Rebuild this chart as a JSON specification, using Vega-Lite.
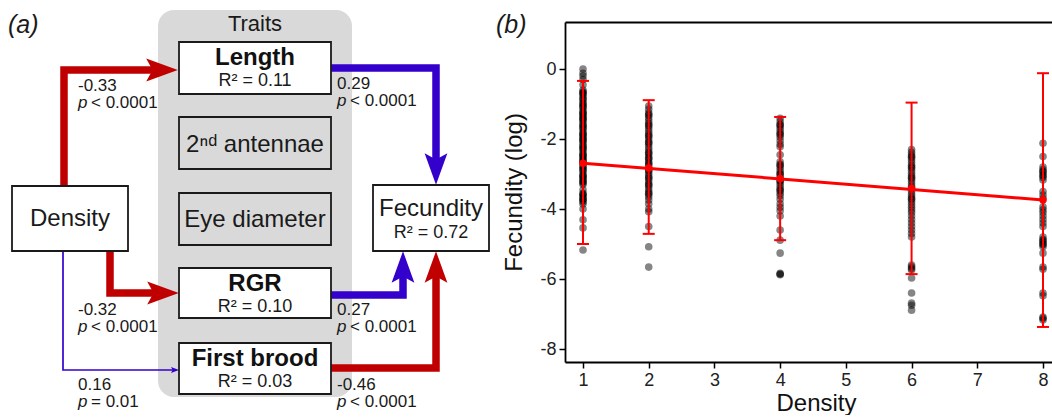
{
  "$schema": "https://vega.github.io/schema/vega-lite/v6.json",
  "padding": 0,
  "autosize": {"type": "pad"},
  "spacing": 75,
  "bounds": "flush",
  "center": true,
  "config": {
    "view": {"stroke": null},
    "font": "Liberation Sans, DejaVu Sans, sans-serif"
  },
  "datasets": {
    "panels": [
      {"label": "(a)", "x": 8, "y": 33},
      {"label": "(b)", "x": 496, "y": 33}
    ],
    "group": [
      {"label": "Traits", "x1": 158, "x2": 352, "y1": 10, "y2": 397, "cx": 255, "ty": 31}
    ],
    "nodes": [
      {"node": "Length", "x1": 179, "x2": 331, "y1": 42, "y2": 94, "cx": 255, "ty": 65, "measured": "yes", "bold": true, "r2": "R² = 0.11", "ry": 86},
      {"node": "2ⁿᵈ antennae", "x1": 179, "x2": 331, "y1": 117, "y2": 169, "cx": 255, "ty": 152, "measured": "no", "bold": false, "r2": null, "ry": null},
      {"node": "Eye diameter", "x1": 179, "x2": 331, "y1": 193, "y2": 245, "cx": 255, "ty": 227, "measured": "no", "bold": false, "r2": null, "ry": null},
      {"node": "RGR", "x1": 179, "x2": 331, "y1": 268, "y2": 318, "cx": 255, "ty": 291, "measured": "yes", "bold": true, "r2": "R² = 0.10", "ry": 312},
      {"node": "First brood", "x1": 179, "x2": 331, "y1": 343, "y2": 394, "cx": 255, "ty": 366, "measured": "yes", "bold": true, "r2": "R² = 0.03", "ry": 387},
      {"node": "Density", "x1": 12, "x2": 128, "y1": 186, "y2": 251, "cx": 70, "ty": 226, "measured": "yes", "bold": false, "r2": null, "ry": null},
      {"node": "Fecundity", "x1": 373, "x2": 489, "y1": 185, "y2": 251, "cx": 431, "ty": 216, "measured": "yes", "bold": false, "r2": "R² = 0.72", "ry": 238}
    ],
    "paths": [
      {"arrow": "A1", "step": 1, "x": 64, "y": 186, "sign": "negative", "strength": "strong"},
      {"arrow": "A1", "step": 2, "x": 64, "y": 70, "sign": "negative", "strength": "strong"},
      {"arrow": "A1", "step": 3, "x": 162, "y": 70, "sign": "negative", "strength": "strong"},
      {"arrow": "A2", "step": 1, "x": 331, "y": 68, "sign": "positive", "strength": "strong"},
      {"arrow": "A2", "step": 2, "x": 436, "y": 68, "sign": "positive", "strength": "strong"},
      {"arrow": "A2", "step": 3, "x": 436, "y": 169, "sign": "positive", "strength": "strong"},
      {"arrow": "A3", "step": 1, "x": 110, "y": 251, "sign": "negative", "strength": "strong"},
      {"arrow": "A3", "step": 2, "x": 110, "y": 293, "sign": "negative", "strength": "strong"},
      {"arrow": "A3", "step": 3, "x": 163, "y": 293, "sign": "negative", "strength": "strong"},
      {"arrow": "A4", "step": 1, "x": 63, "y": 251, "sign": "positive", "strength": "weak"},
      {"arrow": "A4", "step": 2, "x": 63, "y": 370, "sign": "positive", "strength": "weak"},
      {"arrow": "A4", "step": 3, "x": 175, "y": 370, "sign": "positive", "strength": "weak"},
      {"arrow": "A5", "step": 1, "x": 331, "y": 295, "sign": "positive", "strength": "strong"},
      {"arrow": "A5", "step": 2, "x": 403, "y": 295, "sign": "positive", "strength": "strong"},
      {"arrow": "A5", "step": 3, "x": 403, "y": 267, "sign": "positive", "strength": "strong"},
      {"arrow": "A6", "step": 1, "x": 331, "y": 368, "sign": "negative", "strength": "strong"},
      {"arrow": "A6", "step": 2, "x": 436, "y": 368, "sign": "negative", "strength": "strong"},
      {"arrow": "A6", "step": 3, "x": 436, "y": 267, "sign": "negative", "strength": "strong"}
    ],
    "heads": [
      {"arrow": "A1", "x": 162, "y": 70, "dir": "right", "sign": "negative", "strength": "strong"},
      {"arrow": "A2", "x": 436, "y": 169, "dir": "down", "sign": "positive", "strength": "strong"},
      {"arrow": "A3", "x": 163, "y": 293, "dir": "right", "sign": "negative", "strength": "strong"},
      {"arrow": "A4", "x": 175, "y": 370, "dir": "right", "sign": "positive", "strength": "weak"},
      {"arrow": "A5", "x": 403, "y": 267, "dir": "up", "sign": "positive", "strength": "strong"},
      {"arrow": "A6", "x": 436, "y": 267, "dir": "up", "sign": "negative", "strength": "strong"}
    ],
    "coefs": [
      {"x": 78, "y": 91, "coef": "-0.33", "prest": "< 0.0001"},
      {"x": 337, "y": 89, "coef": "0.29", "prest": "< 0.0001"},
      {"x": 78, "y": 315, "coef": "-0.32", "prest": "< 0.0001"},
      {"x": 78, "y": 390, "coef": "0.16", "prest": "= 0.01"},
      {"x": 337, "y": 315, "coef": "0.27", "prest": "< 0.0001"},
      {"x": 337, "y": 390, "coef": "-0.46", "prest": "< 0.0001"}
    ],
    "obs": [
      {"d":1,"f":0.0},{"d":1,"f":-0.12},{"d":1,"f":-0.2},{"d":1,"f":-0.3},{"d":1,"f":-0.45},{"d":1,"f":-0.6},{"d":1,"f":-0.68},{"d":1,"f":-0.75},{"d":1,"f":-0.82},{"d":1,"f":-0.9},{"d":1,"f":-0.97},{"d":1,"f":-1.05},{"d":1,"f":-1.12},{"d":1,"f":-1.2},{"d":1,"f":-1.27},{"d":1,"f":-1.35},{"d":1,"f":-1.42},{"d":1,"f":-1.5},{"d":1,"f":-1.57},{"d":1,"f":-1.65},{"d":1,"f":-1.72},{"d":1,"f":-1.8},{"d":1,"f":-1.87},{"d":1,"f":-1.95},{"d":1,"f":-2.02},{"d":1,"f":-2.1},{"d":1,"f":-2.17},{"d":1,"f":-2.25},{"d":1,"f":-2.32},{"d":1,"f":-2.4},{"d":1,"f":-2.47},{"d":1,"f":-2.55},{"d":1,"f":-2.62},{"d":1,"f":-2.7},{"d":1,"f":-2.77},{"d":1,"f":-2.85},{"d":1,"f":-2.92},{"d":1,"f":-3.0},{"d":1,"f":-3.07},{"d":1,"f":-3.15},{"d":1,"f":-3.22},{"d":1,"f":-3.3},{"d":1,"f":-3.45},{"d":1,"f":-3.55},{"d":1,"f":-3.6},{"d":1,"f":-3.65},{"d":1,"f":-3.72},{"d":1,"f":-3.8},{"d":1,"f":-3.86},{"d":1,"f":-4.0},{"d":1,"f":-4.31},{"d":1,"f":-4.54},{"d":1,"f":-5.17},{"d":1,"f":-1.0},{"d":1,"f":-1.3},{"d":1,"f":-1.6},{"d":1,"f":-1.9},{"d":1,"f":-2.2},{"d":1,"f":-2.5},{"d":1,"f":-2.8},{"d":1,"f":-3.1},{"d":1,"f":-0.7},{"d":1,"f":-1.4},{"d":1,"f":-2.0},{"d":1,"f":-2.6},{"d":1,"f":-3.2},{"d":1,"f":-3.7},{"d":1,"f":-0.65},{"d":1,"f":-0.85},{"d":1,"f":-1.08},{"d":1,"f":-1.24},{"d":1,"f":-1.45},{"d":1,"f":-1.68},{"d":1,"f":-1.84},{"d":1,"f":-2.05},{"d":1,"f":-2.28},{"d":1,"f":-2.44},{"d":1,"f":-2.66},{"d":1,"f":-2.88},{"d":1,"f":-3.04},{"d":1,"f":-3.26},{"d":1,"f":-3.58},{"d":1,"f":-3.76},
      {"d":2,"f":-1.06},{"d":2,"f":-1.15},{"d":2,"f":-1.25},{"d":2,"f":-1.33},{"d":2,"f":-1.4},{"d":2,"f":-1.48},{"d":2,"f":-1.55},{"d":2,"f":-1.63},{"d":2,"f":-1.7},{"d":2,"f":-1.78},{"d":2,"f":-1.85},{"d":2,"f":-1.93},{"d":2,"f":-2.0},{"d":2,"f":-2.08},{"d":2,"f":-2.15},{"d":2,"f":-2.23},{"d":2,"f":-2.3},{"d":2,"f":-2.38},{"d":2,"f":-2.45},{"d":2,"f":-2.53},{"d":2,"f":-2.6},{"d":2,"f":-2.68},{"d":2,"f":-2.75},{"d":2,"f":-2.83},{"d":2,"f":-2.9},{"d":2,"f":-2.98},{"d":2,"f":-3.05},{"d":2,"f":-3.13},{"d":2,"f":-3.2},{"d":2,"f":-3.28},{"d":2,"f":-3.35},{"d":2,"f":-3.43},{"d":2,"f":-3.5},{"d":2,"f":-3.58},{"d":2,"f":-3.65},{"d":2,"f":-3.74},{"d":2,"f":-3.85},{"d":2,"f":-4.0},{"d":2,"f":-4.08},{"d":2,"f":-4.5},{"d":2,"f":-5.08},{"d":2,"f":-5.66},{"d":2,"f":-1.9},{"d":2,"f":-2.4},{"d":2,"f":-2.9},{"d":2,"f":-3.3},{"d":2,"f":-1.3},{"d":2,"f":-1.6},{"d":2,"f":-2.1},{"d":2,"f":-2.55},{"d":2,"f":-2.7},{"d":2,"f":-3.1},{"d":2,"f":-3.55},
      {"d":4,"f":-1.41},{"d":4,"f":-1.5},{"d":4,"f":-1.58},{"d":4,"f":-1.65},{"d":4,"f":-1.72},{"d":4,"f":-1.8},{"d":4,"f":-1.88},{"d":4,"f":-1.95},{"d":4,"f":-2.05},{"d":4,"f":-2.15},{"d":4,"f":-2.22},{"d":4,"f":-2.45},{"d":4,"f":-2.65},{"d":4,"f":-2.72},{"d":4,"f":-2.8},{"d":4,"f":-2.88},{"d":4,"f":-2.95},{"d":4,"f":-3.02},{"d":4,"f":-3.1},{"d":4,"f":-3.18},{"d":4,"f":-3.25},{"d":4,"f":-3.32},{"d":4,"f":-3.4},{"d":4,"f":-3.48},{"d":4,"f":-3.55},{"d":4,"f":-3.62},{"d":4,"f":-3.72},{"d":4,"f":-3.85},{"d":4,"f":-3.95},{"d":4,"f":-4.05},{"d":4,"f":-4.2},{"d":4,"f":-4.6},{"d":4,"f":-4.89},{"d":4,"f":-5.26},{"d":4,"f":-5.84},{"d":4,"f":-5.86},{"d":4,"f":-5.88},{"d":4,"f":-1.6},{"d":4,"f":-1.85},{"d":4,"f":-2.75},{"d":4,"f":-3.0},{"d":4,"f":-3.2},{"d":4,"f":-3.45},
      {"d":6,"f":-2.3},{"d":6,"f":-2.38},{"d":6,"f":-2.45},{"d":6,"f":-2.53},{"d":6,"f":-2.6},{"d":6,"f":-2.68},{"d":6,"f":-2.75},{"d":6,"f":-2.83},{"d":6,"f":-2.9},{"d":6,"f":-2.98},{"d":6,"f":-3.05},{"d":6,"f":-3.13},{"d":6,"f":-3.2},{"d":6,"f":-3.28},{"d":6,"f":-3.35},{"d":6,"f":-3.43},{"d":6,"f":-3.5},{"d":6,"f":-3.58},{"d":6,"f":-3.65},{"d":6,"f":-3.73},{"d":6,"f":-3.8},{"d":6,"f":-3.88},{"d":6,"f":-3.95},{"d":6,"f":-4.03},{"d":6,"f":-4.1},{"d":6,"f":-4.2},{"d":6,"f":-4.3},{"d":6,"f":-4.4},{"d":6,"f":-4.5},{"d":6,"f":-4.6},{"d":6,"f":-4.7},{"d":6,"f":-4.8},{"d":6,"f":-5.6},{"d":6,"f":-5.65},{"d":6,"f":-5.7},{"d":6,"f":-5.74},{"d":6,"f":-5.97},{"d":6,"f":-6.4},{"d":6,"f":-6.69},{"d":6,"f":-6.75},{"d":6,"f":-6.89},{"d":6,"f":-2.5},{"d":6,"f":-2.8},{"d":6,"f":-3.1},{"d":6,"f":-3.4},{"d":6,"f":-3.7},
      {"d":8,"f":-2.12},{"d":8,"f":-2.5},{"d":8,"f":-2.8},{"d":8,"f":-2.87},{"d":8,"f":-2.95},{"d":8,"f":-3.02},{"d":8,"f":-3.1},{"d":8,"f":-3.17},{"d":8,"f":-3.5},{"d":8,"f":-3.6},{"d":8,"f":-3.7},{"d":8,"f":-3.94},{"d":8,"f":-4.02},{"d":8,"f":-4.1},{"d":8,"f":-4.2},{"d":8,"f":-4.3},{"d":8,"f":-4.4},{"d":8,"f":-4.5},{"d":8,"f":-4.8},{"d":8,"f":-4.87},{"d":8,"f":-4.95},{"d":8,"f":-5.02},{"d":8,"f":-5.08},{"d":8,"f":-5.26},{"d":8,"f":-5.66},{"d":8,"f":-5.72},{"d":8,"f":-6.4},{"d":8,"f":-6.48},{"d":8,"f":-7.09},{"d":8,"f":-7.12},{"d":8,"f":-7.17},{"d":8,"f":-2.92},{"d":8,"f":-3.05},{"d":8,"f":-4.9},{"d":8,"f":-5.0}
    ],
    "means": [
      {"d": 1, "mean": -2.69, "lo": -5.0, "hi": -0.34},
      {"d": 2, "mean": -2.83, "lo": -4.71, "hi": -0.89},
      {"d": 4, "mean": -3.13, "lo": -4.89, "hi": -1.37},
      {"d": 6, "mean": -3.41, "lo": -5.86, "hi": -0.96},
      {"d": 8, "mean": -3.74, "lo": -7.37, "hi": -0.12}
    ],
    "fit": [
      {"d": 1, "fit": -2.69},
      {"d": 8, "fit": -3.74}
    ]
  },
  "hconcat": [
    {
      "width": 490,
      "height": 384,
      "layer": [
        {
          "data": {"name": "group"},
          "mark": {"type": "rect", "fill": "#d9d9d9", "cornerRadius": 16},
          "encoding": {
            "x": {"field": "x1", "type": "quantitative", "scale": {"domain": [0, 490], "nice": false, "zero": false}, "axis": null},
            "x2": {"field": "x2"},
            "y": {"field": "y1", "type": "quantitative", "scale": {"domain": [0, 384], "nice": false, "zero": false, "reverse": true}, "axis": null},
            "y2": {"field": "y2"}
          }
        },
        {
          "data": {"name": "panels"},
          "mark": {"type": "text", "fontSize": 25, "fontStyle": "italic", "align": "left", "baseline": "alphabetic", "color": "#1a1a1a"},
          "encoding": {
            "x": {"field": "x", "type": "quantitative"},
            "y": {"field": "y", "type": "quantitative"},
            "text": {"field": "label"}
          }
        },
        {
          "data": {"name": "group"},
          "mark": {"type": "text", "fontSize": 22, "align": "center", "baseline": "alphabetic", "color": "#1a1a1a"},
          "encoding": {
            "x": {"field": "cx", "type": "quantitative"},
            "y": {"field": "ty", "type": "quantitative"},
            "text": {"field": "label"}
          }
        },
        {
          "data": {"name": "paths"},
          "mark": {"type": "line", "strokeJoin": "miter", "strokeCap": "butt"},
          "encoding": {
            "x": {"field": "x", "type": "quantitative"},
            "y": {"field": "y", "type": "quantitative"},
            "detail": {"field": "arrow"},
            "order": {"field": "step", "type": "quantitative"},
            "color": {"field": "sign", "type": "nominal", "scale": {"domain": ["negative", "positive"], "range": ["#c00000", "#3300cc"]}, "legend": null},
            "strokeWidth": {"field": "strength", "type": "ordinal", "scale": {"domain": ["strong", "weak"], "range": [7.5, 1.7]}, "legend": null}
          }
        },
        {
          "data": {"name": "heads"},
          "mark": {"type": "point", "filled": true, "opacity": 1, "strokeWidth": 0},
          "encoding": {
            "x": {"field": "x", "type": "quantitative"},
            "y": {"field": "y", "type": "quantitative"},
            "color": {"field": "sign", "type": "nominal", "legend": null},
            "shape": {"field": "dir", "type": "nominal", "scale": {"domain": ["right", "up", "down"], "range": ["M1,0L-1,-0.72L-0.6,0L-1,0.72Z", "M0,-1L0.72,1L0,0.6L-0.72,1Z", "M0,1L0.72,-1L0,-0.6L-0.72,-1Z"]}, "legend": null},
            "size": {"field": "strength", "type": "ordinal", "scale": {"domain": ["strong", "weak"], "range": [1000, 64]}, "legend": null}
          }
        },
        {
          "data": {"name": "nodes"},
          "mark": {"type": "rect", "stroke": "#1a1a1a", "strokeWidth": 1.8},
          "encoding": {
            "x": {"field": "x1", "type": "quantitative"},
            "x2": {"field": "x2"},
            "y": {"field": "y1", "type": "quantitative"},
            "y2": {"field": "y2"},
            "fill": {"field": "measured", "type": "nominal", "scale": {"domain": ["yes", "no"], "range": ["#ffffff", "#d9d9d9"]}, "legend": null}
          }
        },
        {
          "data": {"name": "nodes"},
          "transform": [{"filter": "datum.bold"}],
          "mark": {"type": "text", "fontSize": 24, "fontWeight": "bold", "align": "center", "baseline": "alphabetic", "color": "#111111"},
          "encoding": {
            "x": {"field": "cx", "type": "quantitative"},
            "y": {"field": "ty", "type": "quantitative"},
            "text": {"field": "node"}
          }
        },
        {
          "data": {"name": "nodes"},
          "transform": [{"filter": "!datum.bold"}],
          "mark": {"type": "text", "fontSize": 24, "align": "center", "baseline": "alphabetic", "color": "#1a1a1a"},
          "encoding": {
            "x": {"field": "cx", "type": "quantitative"},
            "y": {"field": "ty", "type": "quantitative"},
            "text": {"field": "node"}
          }
        },
        {
          "data": {"name": "nodes"},
          "transform": [{"filter": "datum.r2 != null"}],
          "mark": {"type": "text", "fontSize": 18, "align": "center", "baseline": "alphabetic", "color": "#1a1a1a"},
          "encoding": {
            "x": {"field": "cx", "type": "quantitative"},
            "y": {"field": "ry", "type": "quantitative"},
            "text": {"field": "r2"}
          }
        },
        {
          "data": {"name": "coefs"},
          "mark": {"type": "text", "fontSize": 17, "align": "left", "baseline": "alphabetic", "color": "#1a1a1a"},
          "encoding": {
            "x": {"field": "x", "type": "quantitative"},
            "y": {"field": "y", "type": "quantitative"},
            "text": {"field": "coef"}
          }
        },
        {
          "data": {"name": "coefs"},
          "mark": {"type": "text", "fontSize": 17, "fontStyle": "italic", "align": "left", "baseline": "alphabetic", "color": "#1a1a1a", "dy": 17},
          "encoding": {
            "x": {"field": "x", "type": "quantitative"},
            "y": {"field": "y", "type": "quantitative"},
            "text": {"value": "p"}
          }
        },
        {
          "data": {"name": "coefs"},
          "mark": {"type": "text", "fontSize": 17, "align": "left", "baseline": "alphabetic", "color": "#1a1a1a", "dx": 13, "dy": 17},
          "encoding": {
            "x": {"field": "x", "type": "quantitative"},
            "y": {"field": "y", "type": "quantitative"},
            "text": {"field": "prest"}
          }
        }
      ]
    },
    {
      "width": 487,
      "height": 340,
      "resolve": {"axis": {"x": "independent"}},
      "layer": [
        {
          "data": {"name": "obs"},
          "mark": {"type": "circle", "color": "#000000", "opacity": 0.48, "size": 58},
          "encoding": {
            "x": {"field": "d", "type": "quantitative", "title": "Density", "scale": {"domain": [0.726, 8.137], "nice": false, "zero": false},
              "axis": {"orient": "bottom", "values": [1, 2, 3, 4, 5, 6, 7, 8], "format": "d", "grid": false, "domainColor": "#000000", "domainWidth": 1.8, "tickColor": "#000000", "tickWidth": 1.5, "tickSize": 6, "labelFontSize": 18, "labelColor": "#222222", "labelPadding": 3, "titleFontSize": 24, "titleFontWeight": "normal", "titleColor": "#111111", "titlePadding": 2, "titleX": 251}},
            "y": {"field": "f", "type": "quantitative", "title": "Fecundity (log)", "scale": {"domain": [-8.371, 1.343], "nice": false, "zero": false},
              "axis": {"values": [0, -2, -4, -6, -8], "labelExpr": "replace(datum.label, '−', '-')", "grid": false, "domainColor": "#000000", "domainWidth": 1.8, "tickColor": "#000000", "tickWidth": 1.5, "tickSize": 6, "labelFontSize": 18, "labelColor": "#222222", "labelPadding": 3, "titleFontSize": 24, "titleFontWeight": "normal", "titleColor": "#111111", "titlePadding": 13}}
          }
        },
        {
          "data": {"name": "means"},
          "mark": {"type": "rule", "color": "#ff0000", "strokeWidth": 2},
          "encoding": {
            "x": {"field": "d", "type": "quantitative", "axis": null},
            "y": {"field": "lo", "type": "quantitative", "title": "Fecundity (log)"},
            "y2": {"field": "hi"}
          }
        },
        {
          "data": {"name": "means"},
          "mark": {"type": "tick", "orient": "horizontal", "color": "#ff0000", "thickness": 2, "size": 12, "opacity": 1},
          "encoding": {
            "x": {"field": "d", "type": "quantitative", "axis": null},
            "y": {"field": "lo", "type": "quantitative", "title": "Fecundity (log)"}
          }
        },
        {
          "data": {"name": "means"},
          "mark": {"type": "tick", "orient": "horizontal", "color": "#ff0000", "thickness": 2, "size": 12, "opacity": 1},
          "encoding": {
            "x": {"field": "d", "type": "quantitative", "axis": null},
            "y": {"field": "hi", "type": "quantitative", "title": "Fecundity (log)"}
          }
        },
        {
          "data": {"name": "fit"},
          "mark": {"type": "line", "color": "#ff0000", "strokeWidth": 3},
          "encoding": {
            "x": {"field": "d", "type": "quantitative", "axis": {"orient": "top", "labels": false, "ticks": false, "title": null, "domain": true, "domainColor": "#000000", "domainWidth": 2.2, "grid": false}},
            "y": {"field": "fit", "type": "quantitative", "title": "Fecundity (log)"}
          }
        },
        {
          "data": {"name": "means"},
          "mark": {"type": "circle", "color": "#ff0000", "opacity": 1, "size": 55},
          "encoding": {
            "x": {"field": "d", "type": "quantitative", "axis": null},
            "y": {"field": "mean", "type": "quantitative", "title": "Fecundity (log)"}
          }
        }
      ]
    }
  ]
}
